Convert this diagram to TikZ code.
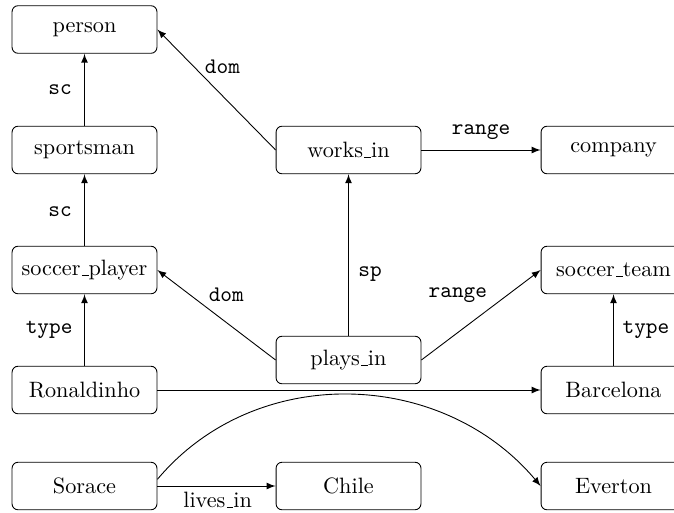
\documentclass[tikz,border=0pt]{standalone}
\usetikzlibrary{arrows}
\newcommand\us{\leavevmode\kern.06em\vbox{\hrule width.3em height .4pt}}
\begin{document}
\begin{tikzpicture}[x=0.45pt,y=-0.45pt,
  box/.style={draw,rounded corners=2.7pt,minimum width=65.2pt,minimum height=21.4pt,inner sep=0pt,font=\normalsize},
  arr/.style={-latex,line width=0.4pt},
  lbl/.style={font=\ttfamily,inner sep=0pt},
  rlbl/.style={inner sep=0pt}]
\useasboundingbox (0,0) rectangle (674,512);
\clip (0,0) rectangle (674,512);
\node[box] (person) at (84.5,29.5) {person};
\node[box] (sportsman) at (84.5,150) {sportsman};
\node[box] (works) at (348.5,150) {works\us in};
\node[box] (company) at (613.5,150) {company};
\node[box] (splayer) at (84.5,270) {soccer\us player};
\node[box] (steam) at (613.5,270) {soccer\us team};
\node[box] (plays) at (348.5,360) {plays\us in};
\node[box] (ronaldinho) at (84.5,390) {Ronaldinho};
\node[box] (barcelona) at (613.5,390) {Barcelona};
\node[box] (sorace) at (84.5,486) {Sorace};
\node[box] (chile) at (348.5,486) {Chile};
\node[box] (everton) at (613.5,486) {Everton};

\draw[arr] (sportsman) -- node[lbl,pos=0.5,xshift=-11pt] {sc} (person);
\draw[arr] (splayer) -- node[lbl,pos=0.5,xshift=-11pt,yshift=-0.8pt] {sc} (sportsman);
\draw[arr] (ronaldinho) -- node[lbl,pos=0.5,xshift=-15.9pt] {type} (splayer);
\draw[arr] (barcelona) -- node[lbl,pos=0.5,xshift=14.6pt] {type} (steam);
\draw[arr] (works.west) -- node[lbl,pos=0.45,yshift=13pt] {dom} (person.east);
\draw[arr] (works) -- node[lbl,pos=0.5,yshift=8.1pt] {range} (company);
\draw[arr] (plays) -- node[lbl,pos=0.38,xshift=9.7pt] {sp} (works);
\draw[arr] (plays.west) -- node[lbl,pos=0.417,yshift=12.4pt] {dom} (splayer.east);
\draw[arr] (plays.east) -- node[lbl,pos=0.306,yshift=16.9pt] {range} (steam.west);
\draw[arr] (ronaldinho) -- (barcelona);
\draw[arr] (sorace) -- node[rlbl,pos=0.51,yshift=-6.4pt] {lives\us in} (chile);
\draw[arr] ([yshift=3pt]sorace.east) to[out=50,in=130,looseness=1.02] (everton.west);
\end{tikzpicture}
\end{document}
